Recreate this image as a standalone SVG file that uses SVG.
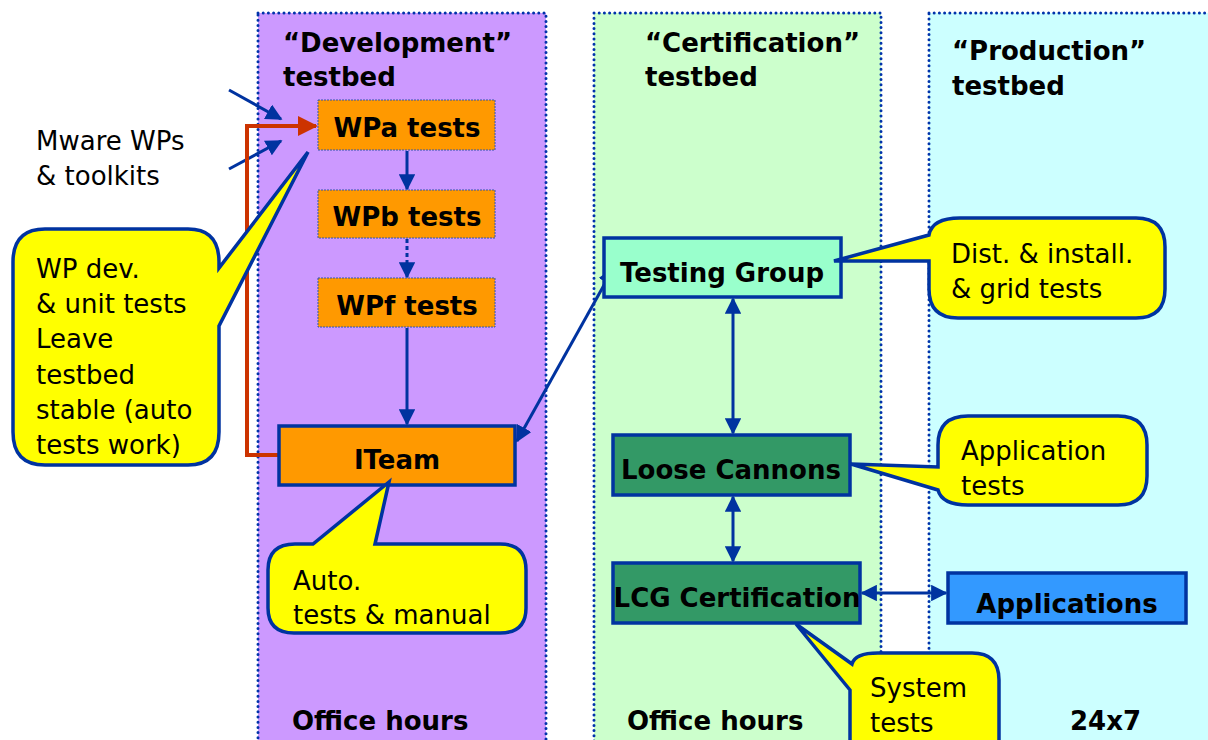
<svg xmlns="http://www.w3.org/2000/svg" width="1208" height="740" viewBox="0 0 1208 740">
<defs>
<style>
.col{stroke:#0033aa;stroke-width:3;stroke-dasharray:0 5.2;stroke-linecap:round}
.t{font-family:"DejaVu Sans",sans-serif;font-size:26px;fill:#000}
.b{font-weight:bold}
.wp{fill:#ff9900;stroke:#3355aa;stroke-width:1;stroke-dasharray:2 1}
.box{stroke:#0033a0;stroke-width:3.5}
.call{fill:#ffff00;stroke:#0033a0;stroke-width:3.5;stroke-linejoin:miter}
.ln{stroke:#0033a0;stroke-width:3;fill:none}
.red{stroke:#cc3300;stroke-width:4;fill:none}
</style>
<marker id="ah" viewBox="0 0 10 10" refX="9" refY="5" markerWidth="5.5" markerHeight="5.5" orient="auto-start-reverse"><path d="M0,0 L10,5 L0,10 Z" fill="#0033a0"/></marker>
<marker id="ahr" viewBox="0 0 10 10" refX="9" refY="5" markerWidth="5" markerHeight="5" orient="auto"><path d="M0,0 L10,5 L0,10 Z" fill="#cc3300"/></marker>
</defs>
<rect width="1208" height="740" fill="#fff"/>
<g id="columns">
<rect x="258" y="13" width="288" height="740" fill="#cc99ff" class="col"/>
<rect x="594" y="13" width="287" height="740" fill="#ccffcc" class="col"/>
<rect x="929" y="13" width="290" height="740" fill="#ccffff" class="col"/>
<text class="t b" x="283" y="52">“Development”</text>
<text class="t b" x="283" y="86">testbed</text>
<text class="t b" x="645" y="52">“Certification”</text>
<text class="t b" x="645" y="86">testbed</text>
<text class="t b" x="952" y="60">“Production”</text>
<text class="t b" x="952" y="95">testbed</text>
<text class="t b" x="292" y="730">Office hours</text>
<text class="t b" x="627" y="730">Office hours</text>
<text class="t b" x="1070" y="730">24x7</text>
</g>
<g id="mware"><text class="t" x="36" y="150">Mware WPs</text><text class="t" x="36" y="185">&amp; toolkits</text></g>
<g id="connectors">
<line class="ln" x1="229" y1="90" x2="281" y2="119" marker-end="url(#ah)"/>
<line class="ln" x1="229" y1="169" x2="281" y2="141" marker-end="url(#ah)"/>
<polyline class="red" points="279,455 247,455 247,126 316,126" marker-end="url(#ahr)"/>
<line class="ln" x1="407" y1="151" x2="407" y2="189" marker-end="url(#ah)"/>
<line class="ln" x1="407" y1="239" x2="407" y2="277" stroke-dasharray="4 3" marker-end="url(#ah)"/>
<line class="ln" x1="407" y1="328" x2="407" y2="424" marker-end="url(#ah)"/>
<line class="ln" x1="517" y1="441" x2="613" y2="269" marker-start="url(#ah)" marker-end="url(#ah)"/>
<line class="ln" x1="733" y1="299" x2="733" y2="433" marker-start="url(#ah)" marker-end="url(#ah)"/>
<line class="ln" x1="733" y1="497" x2="733" y2="561" marker-start="url(#ah)" marker-end="url(#ah)"/>
<line class="ln" x1="862" y1="593" x2="946" y2="593" marker-start="url(#ah)" marker-end="url(#ah)"/>
</g>
<g id="wpa"><rect class="wp" x="318" y="100" width="177" height="50"/><text class="t b" x="407" y="137" text-anchor="middle">WPa tests</text></g>
<g id="wpb"><rect class="wp" x="318" y="190" width="177" height="48"/><text class="t b" x="407" y="226" text-anchor="middle">WPb tests</text></g>
<g id="wpf"><rect class="wp" x="318" y="278" width="177" height="49"/><text class="t b" x="407" y="315" text-anchor="middle">WPf tests</text></g>
<g id="iteam"><rect class="box" x="279" y="426" width="236" height="59" fill="#ff9900"/><text class="t b" x="397" y="469" text-anchor="middle">ITeam</text></g>
<g id="testing-group"><rect class="box" x="604" y="238" width="237" height="59" fill="#99ffcc"/><text class="t b" x="722" y="282" text-anchor="middle">Testing Group</text></g>
<g id="loose-cannons"><rect class="box" x="613" y="435" width="237" height="60" fill="#339966"/><text class="t b" x="731" y="479" text-anchor="middle">Loose Cannons</text></g>
<g id="lcg"><rect class="box" x="613" y="563" width="247" height="60" fill="#339966"/><text class="t b" x="737" y="607" text-anchor="middle">LCG Certification</text></g>
<g id="applications"><rect class="box" x="948" y="573" width="238" height="50" fill="#3399ff"/><text class="t b" x="1067" y="613" text-anchor="middle">Applications</text></g>
<g id="callout-wpdev">
<path class="call" d="M45,229 H188 Q219,229 219,262 V268 L308,152 L219,326 V432 Q219,465 188,465 H45 Q13,465 13,432 V262 Q13,229 45,229 Z"/>
<text class="t" x="36" y="278">WP dev.</text>
<text class="t" x="36" y="313">&amp; unit tests</text>
<text class="t" x="36" y="348">Leave</text>
<text class="t" x="36" y="384">testbed</text>
<text class="t" x="36" y="419">stable (auto</text>
<text class="t" x="36" y="454">tests work)</text>
</g>
<g id="callout-auto">
<path class="call" d="M295,544 H313 L389,482 L375,544 H500 Q526,544 526,570 V608 Q526,633 500,633 H294 Q268,633 268,608 V570 Q268,544 295,544 Z"/>
<text class="t" x="293" y="590">Auto.</text>
<text class="t" x="293" y="624">tests &amp; manual</text>
</g>
<g id="callout-dist">
<path class="call" d="M960,218 H1136 Q1165,218 1165,247 V289 Q1165,318 1136,318 H958 Q929,318 929,289 V261 L834,261 L929,235 Q932,218 960,218 Z"/>
<text class="t" x="951" y="263">Dist. &amp; install.</text>
<text class="t" x="951" y="298">&amp; grid tests</text>
</g>
<g id="callout-app">
<path class="call" d="M968,416 H1118 Q1147,416 1147,445 V476 Q1147,505 1118,505 H968 Q942,505 938,490 L851,464 L938,467 V445 Q938,416 968,416 Z"/>
<text class="t" x="961" y="460">Application</text>
<text class="t" x="961" y="495">tests</text>
</g>
<g id="callout-system">
<path class="call" d="M878,653 H972 Q999,653 999,680 V760 H850 V690 L796,624 L852,664 Q855,653 878,653 Z"/>
<text class="t" x="870" y="697">System</text>
<text class="t" x="870" y="732">tests</text>
</g>
</svg>
